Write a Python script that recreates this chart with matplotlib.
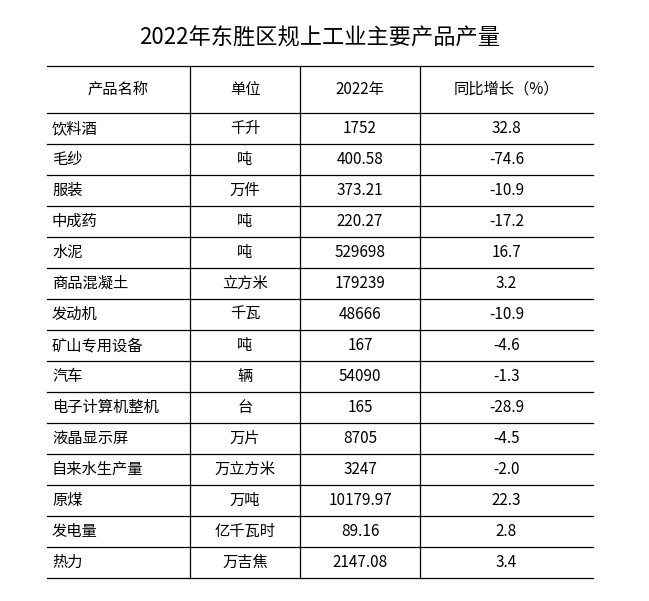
import matplotlib
matplotlib.use("Agg")
import matplotlib.pyplot as plt

plt.rcParams['font.family'] = ['Noto Sans CJK SC', 'DejaVu Sans']

title = "2022年东胜区规上工业主要产品产量"
headers = ["产品名称", "单位", "2022年", "同比增长（%）"]
products = ["饮料酒", "毛纱", "服装", "中成药", "水泥", "商品混凝土", "发动机", "矿山专用设备",
            "汽车", "电子计算机整机", "液晶显示屏", "自来水生产量", "原煤", "发电量", "热力"]
units = ["千升", "吨", "万件", "吨", "吨", "立方米", "千瓦", "吨", "辆", "台", "万片", "万立方米",
         "万吨", "亿千瓦时", "万吉焦"]
output_2022 = ["1752", "400.58", "373.21", "220.27", "529698", "179239", "48666", "167",
               "54090", "165", "8705", "3247", "10179.97", "89.16", "2147.08"]
growth = ["32.8", "-74.6", "-10.9", "-17.2", "16.7", "3.2", "-10.9", "-4.6", "-1.3", "-28.9",
          "-4.5", "-2.0", "22.3", "2.8", "3.4"]

W, H = 649, 601
fig = plt.figure(figsize=(W/100, H/100), dpi=100)
ax = fig.add_axes([0, 0, 1, 1])
ax.set_xlim(0, W); ax.set_ylim(H, 0); ax.axis('off')

x0, x1 = 47, 593
vx = [190, 300, 420]
top, hb, rh = 66, 113, 31
n = len(products)
bottom = hb + n * rh

ax.text(320, 38, title, ha='center', va='center', fontsize=16)
lw = 0.9
ax.plot([x0, x1], [top, top], color='black', lw=lw)
for i in range(n + 1):
    y = hb + i * rh
    ax.plot([x0, x1], [y, y], color='black', lw=lw)
for x in vx:
    ax.plot([x, x], [top, bottom], color='black', lw=lw)

centers = [(x0 + vx[0]) / 2, (vx[0] + vx[1]) / 2, (vx[1] + vx[2]) / 2, (vx[2] + x1) / 2]
hy = (top + hb) / 2
for c, h in zip(centers, headers):
    ax.text(c, hy, h, ha='center', va='center', fontsize=11)
for i in range(n):
    y = hb + i * rh + rh / 2
    ax.text(52, y, products[i], ha='left', va='center', fontsize=11)
    ax.text(centers[1], y, units[i], ha='center', va='center', fontsize=11)
    ax.text(centers[2], y, output_2022[i], ha='center', va='center', fontsize=11)
    ax.text(centers[3], y, growth[i], ha='center', va='center', fontsize=11)

fig.savefig("out.png", dpi=100)
